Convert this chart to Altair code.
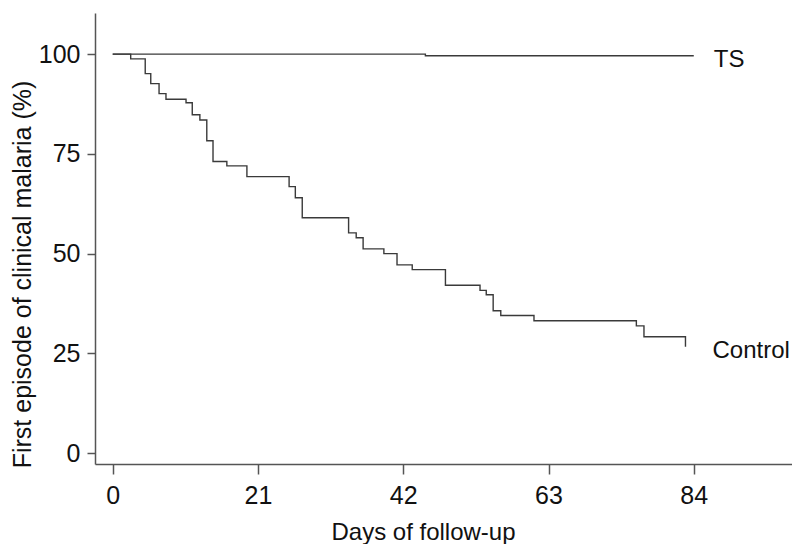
import altair as alt
import pandas as pd

# Kaplan-Meier style data
control_days = [0, 2.6, 4.7, 5.5, 6.7, 7.7, 10.6, 11.5, 12.6, 13.6, 14.5, 16.5, 19.4,
                25.5, 26.4, 27.4, 34.1, 35.2, 36.2, 39.2, 41.1, 43.3, 48.1, 53.1,
                54.0, 55.0, 56.1, 60.9, 75.7, 76.8, 82.8]
control_vals = [100, 98.8, 95.1, 92.6, 90.1, 88.7, 87.8, 84.8, 83.5, 78.3, 73.1, 72.0, 69.3,
                66.8, 64.0, 59.0, 55.2, 54.0, 51.2, 50.0, 47.2, 46.0, 42.1, 40.8,
                39.7, 35.7, 34.5, 33.2, 31.9, 29.2, 26.7]
ts_days = [0, 45.2, 84]
ts_vals = [100, 99.6, 99.6]

x_ticks = [0, 21, 42, 63, 84]
y_ticks = [0, 25, 50, 75, 100]

df = pd.DataFrame({
    "day": control_days + ts_days,
    "value": control_vals + ts_vals,
    "series": ["Control"] * len(control_days) + ["TS"] * len(ts_days),
})
lab_ts = pd.DataFrame({"day": [ts_days[-1]], "value": [ts_vals[-1]], "label": ["TS"]})
lab_ct = pd.DataFrame({"day": [control_days[-1]], "value": [control_vals[-1]], "label": ["Control"]})

xs = alt.Scale(domain=[-2.56, 98.2], nice=False, zero=False)
ys = alt.Scale(domain=[-2.7, 110.3], nice=False, zero=False)

xaxis = alt.Axis(values=x_ticks, title="Days of follow-up", grid=False,
                 domainColor="#555", domainWidth=1.5, tickColor="#555", tickWidth=1.5,
                 tickSize=10, labelFontSize=25, labelColor="#111", labelPadding=9,
                 titleFontSize=24, titleFontWeight="normal", titleColor="#111",
                 titleBaseline="alphabetic", titleY=75, titleX=328, titleAlign="center")
yaxis = alt.Axis(values=y_ticks, title="First episode of clinical malaria (%)", grid=False,
                 domainColor="#555", domainWidth=1.5, tickColor="#555", tickWidth=1.5,
                 tickSize=8, labelFontSize=25, labelColor="#111", labelPadding=7,
                 titleFontSize=25, titleFontWeight="normal", titleColor="#111",
                 titleAngle=270, titleBaseline="alphabetic", titleX=-65, titleY=261,
                 titleAlign="center")

lines = alt.Chart(df).mark_line(interpolate="step-after", color="#3a3a3a", strokeWidth=1.4).encode(
    x=alt.X("day:Q", scale=xs, axis=xaxis),
    y=alt.Y("value:Q", scale=ys, axis=yaxis),
    detail="series:N",
)

t1 = alt.Chart(lab_ts).mark_text(align="left", baseline="alphabetic", dx=20, dy=11,
                                 fontSize=24, color="#111").encode(
    x=alt.X("day:Q", scale=xs), y=alt.Y("value:Q", scale=ys), text="label:N")
t2 = alt.Chart(lab_ct).mark_text(align="left", baseline="alphabetic", dx=27, dy=11.6,
                                 fontSize=24, color="#111").encode(
    x=alt.X("day:Q", scale=xs), y=alt.Y("value:Q", scale=ys), text="label:N")

chart = alt.layer(lines, t1, t2).properties(
    width=697, height=451,
    autosize=alt.AutoSizeParams(type="none"),
    padding={"left": 87, "top": 5, "right": 0, "bottom": 80},
).configure(font="Liberation Sans", background="white").configure_view(stroke=None)

chart.save("out.html", embed_options={"renderer": "svg", "actions": False})
